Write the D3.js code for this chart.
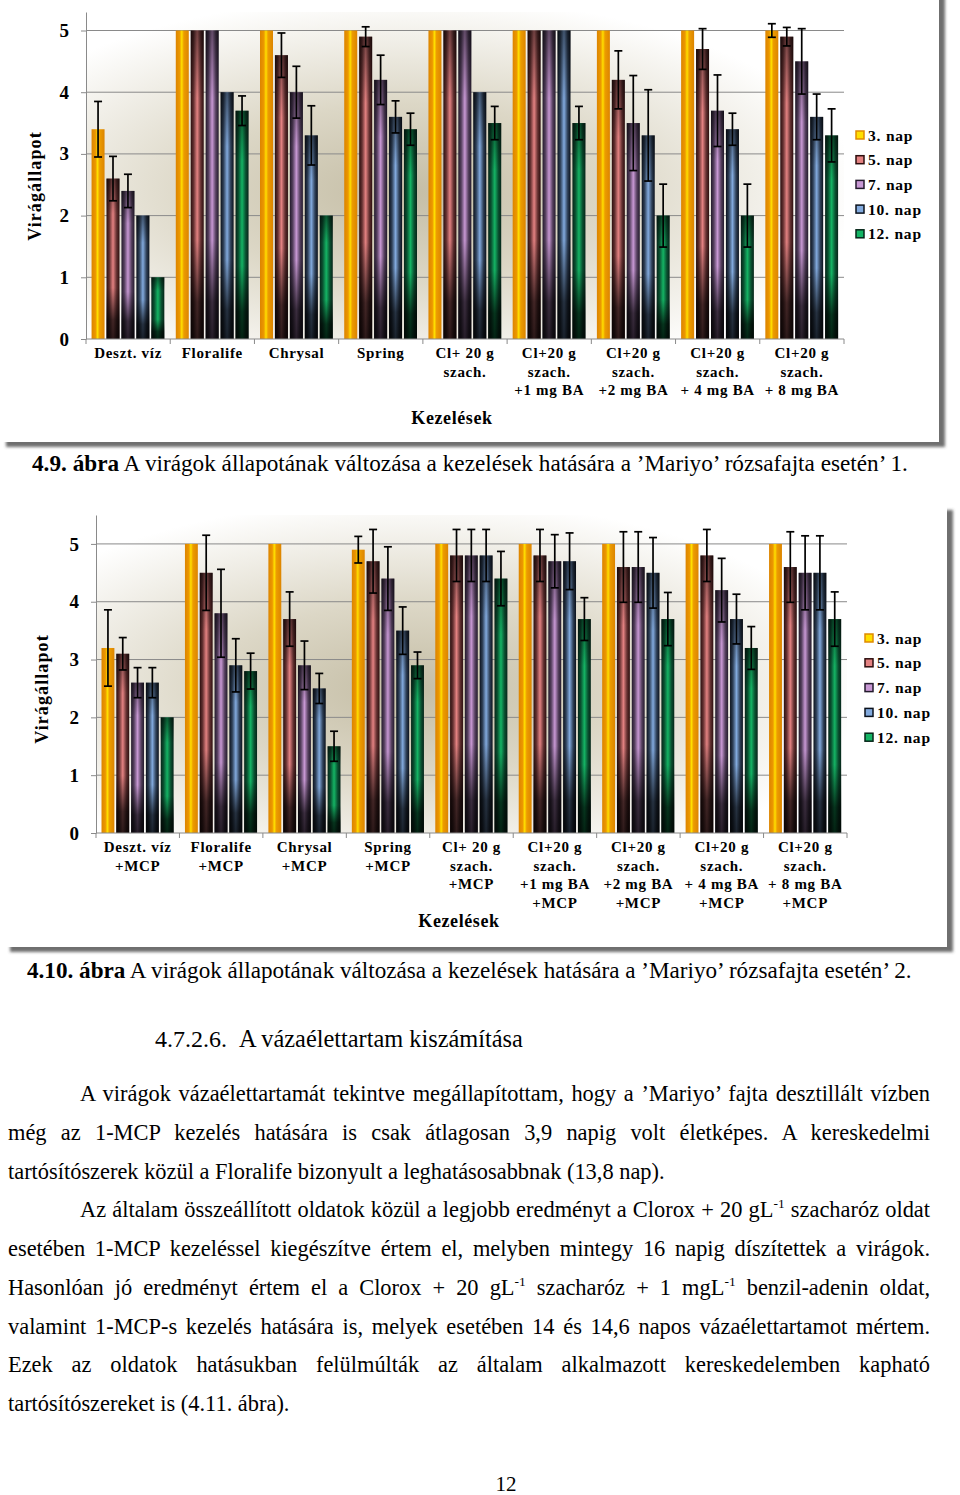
<!DOCTYPE html>
<html lang="hu">
<head>
<meta charset="utf-8">
<title>Virágállapot - Mariyo</title>
<script src="https://d3js.org/d3.v7.min.js"></script>
<style>
body { margin: 0; background: #fff; }
</style>
</head>
<body>
<script>

// series (days) and categories
var series = ["3. nap", "5. nap", "7. nap", "10. nap", "12. nap"];

var cats1 = [["Deszt. víz"], ["Floralife"], ["Chrysal"], ["Spring"],
    ["Cl+ 20 g", "szach."], ["Cl+20 g", "szach.", "+1 mg BA"], ["Cl+20 g", "szach.", "+2 mg BA"],
    ["Cl+20 g", "szach.", "+ 4 mg BA"], ["Cl+20 g", "szach.", "+ 8 mg BA"]];

var cats2 = [["Deszt. víz", "+MCP"], ["Floralife", "+MCP"], ["Chrysal", "+MCP"], ["Spring", "+MCP"],
    ["Cl+ 20 g", "szach.", "+MCP"], ["Cl+20 g", "szach.", "+1 mg BA", "+MCP"],
    ["Cl+20 g", "szach.", "+2 mg BA", "+MCP"], ["Cl+20 g", "szach.", "+ 4 mg BA", "+MCP"],
    ["Cl+20 g", "szach.", "+ 8 mg BA", "+MCP"]];

var yTicks = [0, 1, 2, 3, 4, 5];

// chart 4.9 values (mean) and error bars (+/-)
var c1Nap3  = [3.4, 5, 5, 5, 5, 5, 5, 5, 5];
var c1Nap5  = [2.6, 5, 4.6, 4.9, 5, 5, 4.2, 4.7, 4.9];
var c1Nap7  = [2.4, 5, 4.0, 4.2, 5, 5, 3.5, 3.7, 4.5];
var c1Nap10 = [2.0, 4.0, 3.3, 3.6, 4.0, 5, 3.3, 3.4, 3.6];
var c1Nap12 = [1.0, 3.7, 2.0, 3.4, 3.5, 3.5, 2.0, 2.0, 3.3];

var c1Err3  = [0.45, 0, 0, 0, 0, 0, 0, 0, 0.11];
var c1Err5  = [0.36, 0, 0.36, 0.16, 0, 0, 0.47, 0.33, 0.15];
var c1Err7  = [0.27, 0, 0.42, 0.40, 0, 0, 0.77, 0.58, 0.53];
var c1Err10 = [0, 0, 0.48, 0.26, 0, 0, 0.74, 0.26, 0.37];
var c1Err12 = [0, 0.24, 0, 0.26, 0.27, 0.27, 0.51, 0.51, 0.43];

// chart 4.10 values (mean) and error bars (+/-)
var c2Nap3  = [3.2, 5, 5, 4.9, 5, 5, 5, 5, 5];
var c2Nap5  = [3.1, 4.5, 3.7, 4.7, 4.8, 4.8, 4.6, 4.8, 4.6];
var c2Nap7  = [2.6, 3.8, 2.9, 4.4, 4.8, 4.7, 4.6, 4.2, 4.5];
var c2Nap10 = [2.6, 2.9, 2.5, 3.5, 4.8, 4.7, 4.5, 3.7, 4.5];
var c2Nap12 = [2.0, 2.8, 1.5, 2.9, 4.4, 3.7, 3.7, 3.2, 3.7];

var c2Err3  = [0.66, 0, 0, 0.23, 0, 0, 0, 0, 0];
var c2Err5  = [0.28, 0.65, 0.47, 0.55, 0.45, 0.45, 0.61, 0.45, 0.61];
var c2Err7  = [0.26, 0.76, 0.42, 0.55, 0.45, 0.46, 0.61, 0.55, 0.64];
var c2Err10 = [0.26, 0.46, 0.26, 0.41, 0.45, 0.49, 0.61, 0.43, 0.64];
var c2Err12 = [0, 0.31, 0.26, 0.23, 0.47, 0.37, 0.46, 0.37, 0.47];

// bar colours: edge and centre of the stripe gradient
var edgeCol   = ["#dc8400", "#2c0e0e", "#231a2c", "#0b121d", "#062519"];
var centerCol = ["#ffe000", "#e48282", "#c898d4", "#82aade", "#14b464"];

var serif = "'Liberation Serif', 'Times New Roman', serif";

var svg = d3.select("body").append("svg")
    .attr("width", 960)
    .attr("height", 1495);

var defs = svg.append("defs");

// drop shadow for the chart frames
var f = defs.append("filter").attr("id", "shadow")
    .attr("x", "-2%").attr("y", "-2%").attr("width", "106%").attr("height", "106%");
f.append("feDropShadow").attr("dx", 6).attr("dy", 5).attr("stdDeviation", 1.6)
    .attr("flood-color", "#555").attr("flood-opacity", 0.85);

// plot area background
var bg = defs.append("radialGradient").attr("id", "bg")
    .attr("cx", 0.42).attr("cy", 0.55).attr("r", 0.6);
bg.append("stop").attr("offset", 0).attr("stop-color", "#c4bda5");
bg.append("stop").attr("offset", 0.45).attr("stop-color", "#dcd7c6");
bg.append("stop").attr("offset", 1).attr("stop-color", "#ffffff");

// stripe gradients
series.forEach(function (s, i) {
    var lg = defs.append("linearGradient").attr("id", "bar" + i)
        .attr("x1", 0).attr("y1", 0).attr("x2", 1).attr("y2", 0);
    var mid = d3.interpolateRgb(edgeCol[i], centerCol[i]);
    if (i == 0) {
        lg.append("stop").attr("offset", 0).attr("stop-color", edgeCol[i]);
        lg.append("stop").attr("offset", 0.3).attr("stop-color", "#ec9800");
        lg.append("stop").attr("offset", 0.46).attr("stop-color", centerCol[i]);
        lg.append("stop").attr("offset", 0.62).attr("stop-color", "#ec9c00");
        lg.append("stop").attr("offset", 1).attr("stop-color", edgeCol[i]);
    } else {
        lg.append("stop").attr("offset", 0).attr("stop-color", edgeCol[i]);
        lg.append("stop").attr("offset", 0.22).attr("stop-color", mid(0.3));
        lg.append("stop").attr("offset", 0.5).attr("stop-color", centerCol[i]);
        lg.append("stop").attr("offset", 0.78).attr("stop-color", mid(0.3));
        lg.append("stop").attr("offset", 1).attr("stop-color", edgeCol[i]);
    }
});

// vertical darkening at top and bottom of the dark bars
var sh = defs.append("linearGradient").attr("id", "shade")
    .attr("x1", 0).attr("y1", 0).attr("x2", 0).attr("y2", 1);
sh.append("stop").attr("offset", 0).attr("stop-color", "#000").attr("stop-opacity", 0.5);
sh.append("stop").attr("offset", 0.22).attr("stop-color", "#000").attr("stop-opacity", 0);
sh.append("stop").attr("offset", 0.68).attr("stop-color", "#000").attr("stop-opacity", 0);
sh.append("stop").attr("offset", 0.88).attr("stop-color", "#000").attr("stop-opacity", 0.7);
sh.append("stop").attr("offset", 1).attr("stop-color", "#000").attr("stop-opacity", 0.8);

// frames
svg.append("rect").attr("x", 0).attr("y", -10).attr("width", 939).attr("height", 452)
    .attr("fill", "#fff").attr("filter", "url(#shadow)");
svg.append("rect").attr("x", 4).attr("y", 505).attr("width", 943).attr("height", 442)
    .attr("fill", "#fff").attr("filter", "url(#shadow)");


function drawChart(cfg) {

    var g = svg.append("g");
    var n = cfg.cats.length;

    var x = d3.scaleBand().domain(d3.range(n)).range([cfg.left, cfg.right]);
    var bw = x.bandwidth();
    var xs = d3.scaleBand().domain(series).range([bw * 0.066, bw * 0.93]).paddingInner(0.13);
    var y = d3.scaleLinear().domain([0, cfg.max]).range([cfg.bottom, cfg.top]);

    g.append("rect")
        .attr("x", cfg.left).attr("y", y(cfg.max))
        .attr("width", cfg.right - cfg.left).attr("height", y(0) - y(cfg.max))
        .attr("fill", "url(#bg)");

    // gridlines
    g.selectAll("line.grid")
        .data(yTicks.slice(1))
        .enter()
        .append("line")
        .attr("x1", cfg.left).attr("x2", cfg.right)
        .attr("y1", function (d) { return y(d); })
        .attr("y2", function (d) { return y(d); })
        .attr("stroke", "#8a8a8a")
        .attr("stroke-width", 1);

    // bars
    series.forEach(function (s, si) {
        var gs = g.append("g");
        var bars = gs.selectAll("rect.bar")
            .data(cfg.vals[si])
            .enter();
        bars.append("rect")
            .attr("x", function (d, i) { return x(i) + xs(s); })
            .attr("y", function (d) { return y(d); })
            .attr("width", xs.bandwidth())
            .attr("height", function (d) { return y(0) - y(d); })
            .attr("fill", "url(#bar" + si + ")");
        if (si > 0) {
            bars.append("rect")
                .attr("x", function (d, i) { return x(i) + xs(s); })
                .attr("y", function (d) { return y(d); })
                .attr("width", xs.bandwidth())
                .attr("height", function (d) { return y(0) - y(d); })
                .attr("fill", "url(#shade)");
        }
    });

    // error bars
    series.forEach(function (s, si) {
        var eb = [];
        cfg.vals[si].forEach(function (v, i) {
            if (cfg.errs[si][i] > 0) eb.push({ i: i, v: v, e: cfg.errs[si][i] });
        });
        var ge = g.append("g").attr("stroke", "#000").attr("stroke-width", 1.7);
        ge.selectAll("line.v").data(eb).enter().append("line")
            .attr("x1", function (d) { return x(d.i) + xs(s) + xs.bandwidth() / 2; })
            .attr("x2", function (d) { return x(d.i) + xs(s) + xs.bandwidth() / 2; })
            .attr("y1", function (d) { return y(d.v + d.e); })
            .attr("y2", function (d) { return y(d.v - d.e); });
        [1, -1].forEach(function (sign) {
            ge.selectAll("line.c" + sign).data(eb).enter().append("line")
                .attr("x1", function (d) { return x(d.i) + xs(s) + xs.bandwidth() / 2 - 4; })
                .attr("x2", function (d) { return x(d.i) + xs(s) + xs.bandwidth() / 2 + 4; })
                .attr("y1", function (d) { return y(d.v + sign * d.e); })
                .attr("y2", function (d) { return y(d.v + sign * d.e); });
        });
    });

    // y axis
    var ya = d3.axisLeft(y).tickValues(yTicks).tickSize(5).tickSizeOuter(0)
        .tickPadding(12).tickFormat(d3.format("d"));
    var yg = g.append("g").attr("transform", "translate(" + cfg.left + ",0)").call(ya);
    yg.select(".domain").attr("stroke", "#8a8a8a");
    yg.selectAll(".tick line").attr("stroke", "#8a8a8a");
    yg.selectAll(".tick text")
        .attr("font-family", serif).attr("font-size", 19).attr("font-weight", "bold")
        .attr("fill", "#000");

    // x axis line and boundary ticks
    g.append("line").attr("x1", cfg.left).attr("x2", cfg.right)
        .attr("y1", y(0)).attr("y2", y(0)).attr("stroke", "#8a8a8a");
    g.selectAll("line.xt")
        .data(d3.range(n + 1))
        .enter()
        .append("line")
        .attr("x1", function (d) { return d < n ? x(d) : cfg.right; })
        .attr("x2", function (d) { return d < n ? x(d) : cfg.right; })
        .attr("y1", y(0)).attr("y2", y(0) + 5)
        .attr("stroke", "#8a8a8a");

    // category labels
    var lab = g.selectAll("text.cat")
        .data(cfg.cats)
        .enter()
        .append("text")
        .attr("font-family", serif).attr("font-size", 15).attr("font-weight", "bold")
        .attr("letter-spacing", 0.7)
        .attr("text-anchor", "middle");
    lab.each(function (d, i) {
        var t = d3.select(this);
        d.forEach(function (line, k) {
            t.append("tspan")
                .attr("x", x(i) + bw / 2)
                .attr("y", cfg.labelY + k * cfg.labelLH)
                .text(line);
        });
    });

    // axis titles
    g.append("text")
        .attr("transform", "translate(" + cfg.yTitleX + "," + cfg.yTitleY + ") rotate(-90)")
        .attr("text-anchor", "middle")
        .attr("font-family", serif).attr("font-size", 18).attr("font-weight", "bold")
        .attr("letter-spacing", 1.1)
        .text("Virágállapot");

    g.append("text")
        .attr("x", cfg.xTitleX).attr("y", cfg.xTitleY)
        .attr("text-anchor", "middle")
        .attr("font-family", serif).attr("font-size", 18).attr("font-weight", "bold")
        .attr("letter-spacing", 0.6)
        .text("Kezelések");

    // legend
    var lg = g.selectAll("g.leg")
        .data(series)
        .enter()
        .append("g")
        .attr("transform", function (d, i) {
            return "translate(" + cfg.legX + "," + (cfg.legY + i * cfg.legStep) + ")";
        });
    lg.append("rect")
        .attr("x", 0).attr("y", -4).attr("width", 8).attr("height", 8)
        .attr("fill", function (d, i) { return centerCol[i]; })
        .attr("stroke", function (d, i) { return i == 0 ? "#e08a00" : edgeCol[i]; })
        .attr("stroke-width", 1.5);
    lg.append("text")
        .attr("x", 12).attr("y", 5.5)
        .attr("font-family", serif).attr("font-size", 15.5).attr("font-weight", "bold")
        .attr("letter-spacing", 0.8)
        .text(function (d) { return d; });
}

drawChart({
    cats: cats1,
    vals: [c1Nap3, c1Nap5, c1Nap7, c1Nap10, c1Nap12],
    errs: [c1Err3, c1Err5, c1Err7, c1Err10, c1Err12],
    left: 86, right: 844, top: 12, bottom: 339, max: 5.3,
    labelY: 358, labelLH: 18.5,
    yTitleX: 41, yTitleY: 186,
    xTitleX: 452, xTitleY: 424,
    legX: 856, legY: 135, legStep: 24.7
});

drawChart({
    cats: cats2,
    vals: [c2Nap3, c2Nap5, c2Nap7, c2Nap10, c2Nap12],
    errs: [c2Err3, c2Err5, c2Err7, c2Err10, c2Err12],
    left: 96, right: 847, top: 515, bottom: 833, max: 5.5,
    labelY: 852, labelLH: 18.7,
    yTitleX: 48, yTitleY: 689,
    xTitleX: 459, xTitleY: 927,
    legX: 865, legY: 638, legStep: 24.8
});


// page text: each line is a list of [text, style] pieces
// style: "b" bold, "s" superscript, "" normal
// mode: "just" spreads the spaces to the width, "fit" scales the font to the width
function textLine(pieces, x0, base, size, width, mode) {
    var t = svg.append("text")
        .attr("x", x0).attr("y", base)
        .attr("font-family", serif).attr("font-size", size)
        .attr("fill", "#000");
    var shift = 0;
    pieces.forEach(function (p) {
        var ts = t.append("tspan").text(p[0]);
        if (p[1] == "b") ts.attr("font-weight", "bold");
        if (p[1] == "s") {
            ts.attr("font-size", size * 0.6).attr("dy", -size * 0.42);
            shift = size * 0.42;
        } else if (shift) {
            ts.attr("dy", shift);
            shift = 0;
        }
    });
    if (width) {
        var nat = t.node().getComputedTextLength();
        if (mode == "fit") {
            t.attr("font-size", size * width / nat);
        } else {
            var full = pieces.map(function (p) { return p[0]; }).join("");
            var spaces = (full.match(/ /g) || []).length;
            if (spaces > 0) t.attr("word-spacing", (width - nat) / spaces);
        }
    }
    return t;
}

textLine([["4.9. ábra", "b"], [" A virágok állapotának változása a kezelések hatására a ’Mariyo’ rózsafajta esetén’ 1.", ""]],
    32, 471, 20, 876, "fit");
textLine([["4.10. ábra", "b"], [" A virágok állapotának változása a kezelések hatására a ’Mariyo’ rózsafajta esetén’ 2.", ""]],
    27, 978, 20, 885, "fit");

textLine([["4.7.2.6.", ""]], 155, 1047, 24);
textLine([["A vázaélettartam kiszámítása", ""]], 239, 1047, 24, 284, "fit");

var bodySize = 22.4;
var bodyLines = [
    [80, [["A virágok vázaélettartamát tekintve megállapítottam, hogy a ’Mariyo’ fajta desztillált vízben", ""]], true],
    [8, [["még az 1-MCP kezelés hatására is csak átlagosan 3,9 napig volt életképes. A kereskedelmi", ""]], true],
    [8, [["tartósítószerek közül a Floralife bizonyult a leghatásosabbnak (13,8 nap).", ""]], false],
    [80, [["Az általam összeállított oldatok közül a legjobb eredményt a Clorox + 20 gL", ""], ["-1", "s"], [" szacharóz oldat", ""]], true],
    [8, [["esetében 1-MCP kezeléssel kiegészítve értem el, melyben mintegy 16 napig díszítettek a virágok.", ""]], true],
    [8, [["Hasonlóan jó eredményt értem el a Clorox + 20 gL", ""], ["-1", "s"], [" szacharóz + 1 mgL", ""], ["-1", "s"], [" benzil-adenin oldat,", ""]], true],
    [8, [["valamint 1-MCP-s kezelés hatására is, melyek esetében 14 és 14,6 napos vázaélettartamot mértem.", ""]], true],
    [8, [["Ezek az oldatok hatásukban felülmúlták az általam alkalmazott kereskedelemben kapható", ""]], true],
    [8, [["tartósítószereket is (4.11. ábra).", ""]], false]
];
var bodyBase = [1101, 1140, 1179, 1217, 1256, 1295, 1334, 1372, 1411];

bodyLines.forEach(function (l, i) {
    textLine(l[1], l[0], bodyBase[i], bodySize, l[2] ? 930 - l[0] : 0, "just");
});

svg.append("text")
    .attr("x", 506).attr("y", 1491)
    .attr("text-anchor", "middle")
    .attr("font-family", serif).attr("font-size", 21)
    .text("12");

</script>
</body>
</html>
